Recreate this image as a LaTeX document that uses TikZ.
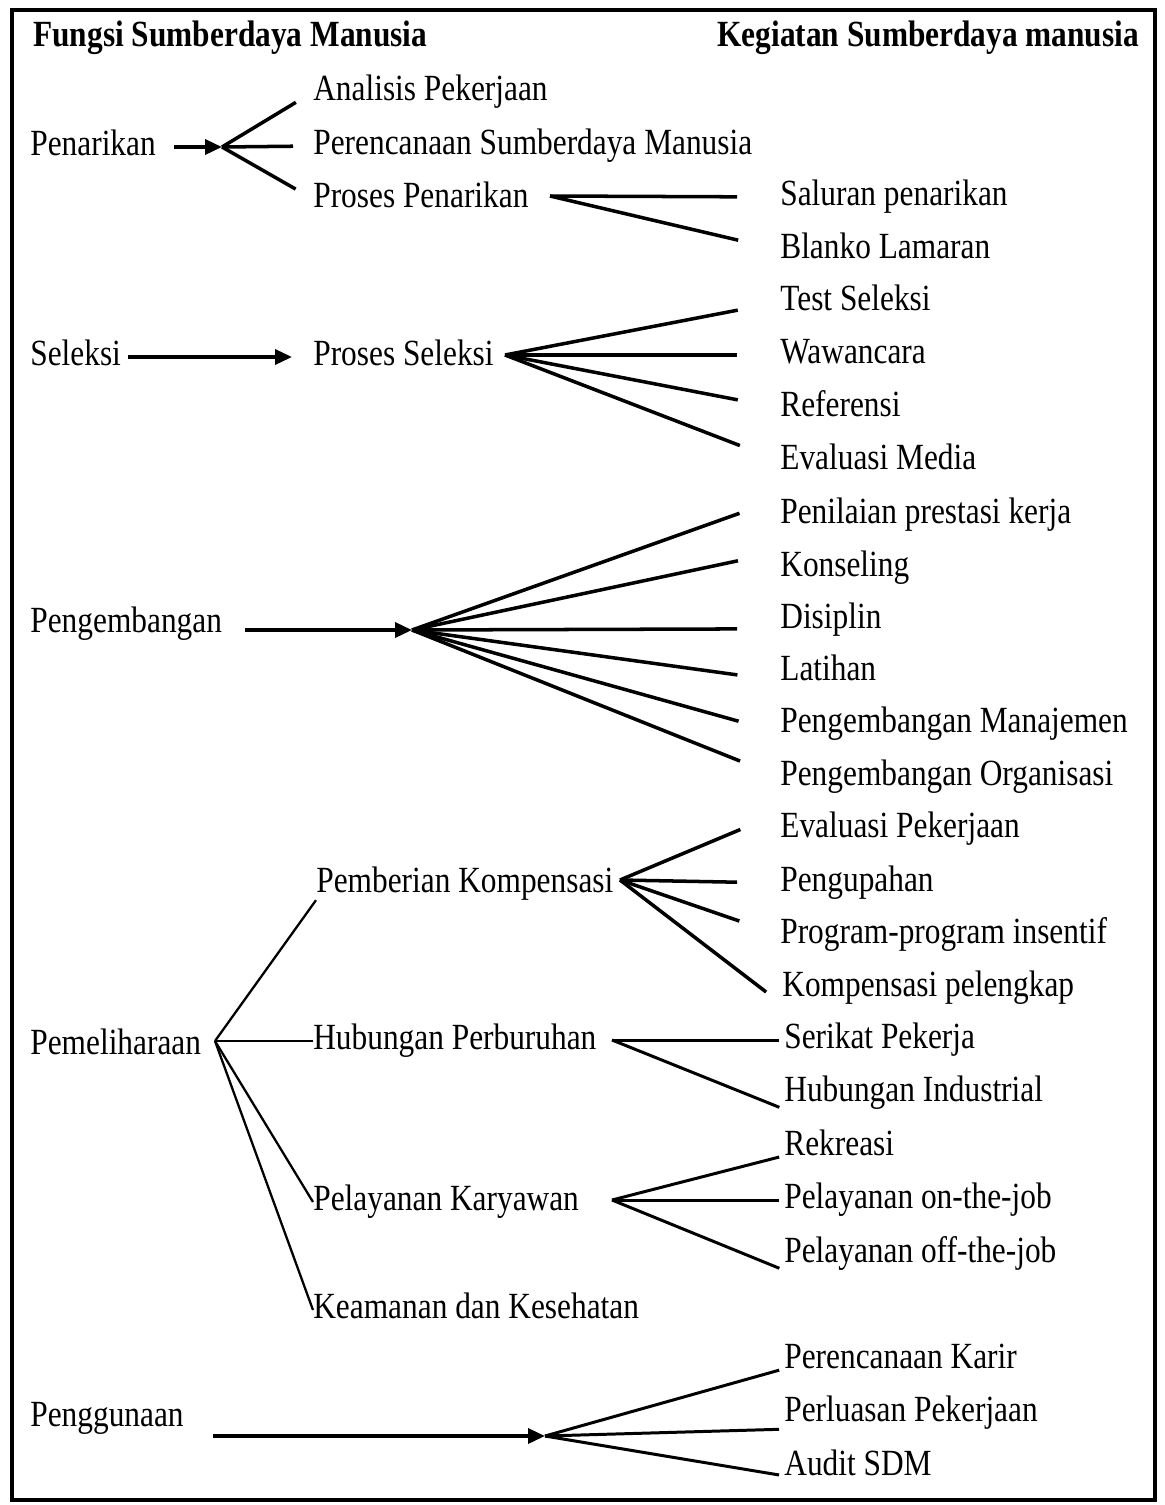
\documentclass[tikz,border=0pt]{standalone}
\usepackage{fontspec}
\setmainfont{Liberation Serif}[FakeStretch=0.85]
\usetikzlibrary{arrows.meta}

\begin{document}
\begin{tikzpicture}[x=0.02cm,y=-0.02cm,
    lbl/.style={anchor=west,inner sep=0pt,text height=14pt,text depth=4pt,font=\fontsize{21}{24}\selectfont},
    hdr/.style={lbl,font=\fontsize{21}{24}\selectfont\bfseries},
    cab/.style={line width=2pt,shorten >=0.86cm},
    cabm/.style={line width=2pt,shorten >=0.4cm},
    cabr/.style={line width=1.7pt,shorten >=0.1cm},
    tipis/.style={line width=1.3pt},
    panah/.style={line width=2pt,-{Triangle[length=0.34cm,width=0.3cm]}}]
    \useasboundingbox(0,0)rectangle(1164,1505);
    \draw[line width=1.8pt](12,10)rectangle(1155,1500);
    \node[hdr](fungsi)at(33,38){Fungsi Sumberdaya Manusia};
    \node[hdr](kegiatan)at(717,38){Kegiatan Sumberdaya manusia};

    \node[lbl](penarikan)at(30,147){Penarikan};
    \node[lbl](analisis)at(313,92){Analisis Pekerjaan};
    \node[lbl](rencana)at(313,146){Perencanaan Sumberdaya Manusia};
    \node[lbl](prosespen)at(313,199){Proses Penarikan};
    \node[lbl](saluran)at(780,197){Saluran penarikan};
    \node[lbl](blanko)at(780,250){Blanko Lamaran};
    \coordinate(fpen)at(222,147);
    \coordinate(fpp)at(550,196);
    \draw[panah,shorten <=0.36cm](penarikan)--(fpen);
    \draw[cabm](fpen)--(analisis.west);
    \draw[cabm](fpen)--(rencana.west);
    \draw[cabm](fpen)--(prosespen.west);
    \draw[cab](fpp)--(saluran.west);
    \draw[cab](fpp)--(blanko.west);

    \node[lbl](seleksi)at(30,357){Seleksi};
    \node[lbl](prosessel)at(313,357){Proses Seleksi};
    \node[lbl](test)at(780,302){Test Seleksi};
    \node[lbl](wawancara)at(780,355){Wawancara};
    \node[lbl](referensi)at(780,408){Referensi};
    \node[lbl](evmedia)at(780,461){Evaluasi Media};
    \coordinate(fsel)at(505,355);
    \draw[panah,shorten <=0.14cm,shorten >=0.42cm](seleksi)--(prosessel);
    \draw[cab](fsel)--(test.west);
    \draw[cab](fsel)--(wawancara.west);
    \draw[cab](fsel)--(referensi.west);
    \draw[cab](fsel)--(evmedia.west);

    \node[lbl](pengembangan)at(30,624){Pengembangan};
    \node[lbl](penilaian)at(780,515){Penilaian prestasi kerja};
    \node[lbl](konseling)at(780,568){Konseling};
    \node[lbl](disiplin)at(780,620){Disiplin};
    \node[lbl](latihan)at(780,672){Latihan};
    \node[lbl](pmanajemen)at(780,724){Pengembangan Manajemen};
    \node[lbl](porganisasi)at(780,777){Pengembangan Organisasi};
    \coordinate(fpgb)at(412,630);
    \draw[panah,shorten <=0.46cm](pengembangan.east|-fpgb)--(fpgb);
    \draw[cab](fpgb)--(penilaian.north west);
    \draw[cab](fpgb)--(konseling.north west);
    \draw[cab](fpgb)--(disiplin.base west);
    \draw[cab](fpgb)--(latihan.base west);
    \draw[cab](fpgb)--(pmanajemen.base west);
    \draw[cab](fpgb)--(porganisasi.west);

    \node[lbl](pemeliharaan)at(30,1046){Pemeliharaan};
    \node[lbl](kompensasi)at(316,884){Pemberian Kompensasi};
    \node[lbl](perburuhan)at(313,1041){Hubungan Perburuhan};
    \node[lbl](karyawan)at(313,1202){Pelayanan Karyawan};
    \node[lbl](keamanan)at(313,1310){Keamanan dan Kesehatan};
    \node[lbl](evpekerjaan)at(780,829){Evaluasi Pekerjaan};
    \node[lbl](pengupahan)at(780,883){Pengupahan};
    \node[lbl](insentif)at(780,935){Program-program insentif};
    \node[lbl](pelengkap)at(782,988){Kompensasi pelengkap};
    \node[lbl](serikat)at(784,1040){Serikat Pekerja};
    \node[lbl](industrial)at(784,1093){Hubungan Industrial};
    \node[lbl](rekreasi)at(784,1147){Rekreasi};
    \node[lbl](onjob)at(784,1200){Pelayanan on-the-job};
    \node[lbl](offjob)at(784,1254){Pelayanan off-the-job};
    \coordinate(fpml)at(215,1041);
    \coordinate(fkom)at(620,880);
    \coordinate(fhub)at(612,1040);
    \coordinate(fkar)at(612,1200);
    \draw[tipis](fpml)--(kompensasi.south west);
    \draw[tipis](fpml)--(perburuhan.west);
    \draw[tipis](fpml)--(karyawan.west);
    \draw[tipis](fpml)--(keamanan.west);
    \draw[cab](fkom)--(evpekerjaan.north west);
    \draw[cab](fkom)--(pengupahan.west);
    \draw[cab](fkom)--(insentif.west);
    \draw[cab,shorten >=0.4cm](fkom)--(pelengkap.south west);
    \draw[cabr](fhub)--(serikat.west);
    \draw[cabr](fhub)--(industrial.south west);
    \draw[cabr](fkar)--(rekreasi.base west);
    \draw[cabr](fkar)--(onjob.west);
    \draw[cabr](fkar)--(offjob.south west);

    \node[lbl](penggunaan)at(30,1418){Penggunaan};
    \node[lbl](karir)at(784,1360){Perencanaan Karir};
    \node[lbl](perluasan)at(784,1413){Perluasan Pekerjaan};
    \node[lbl](audit)at(784,1467){Audit SDM};
    \coordinate(fgun)at(545,1436);
    \draw[panah,shorten <=0.58cm](penggunaan.east|-fgun)--(fgun);
    \draw[cabr](fgun)--(karir.base west);
    \draw[cabr](fgun)--(perluasan.south west);
    \draw[cabr](fgun)--(audit.base west);
\end{tikzpicture}
\end{document}
